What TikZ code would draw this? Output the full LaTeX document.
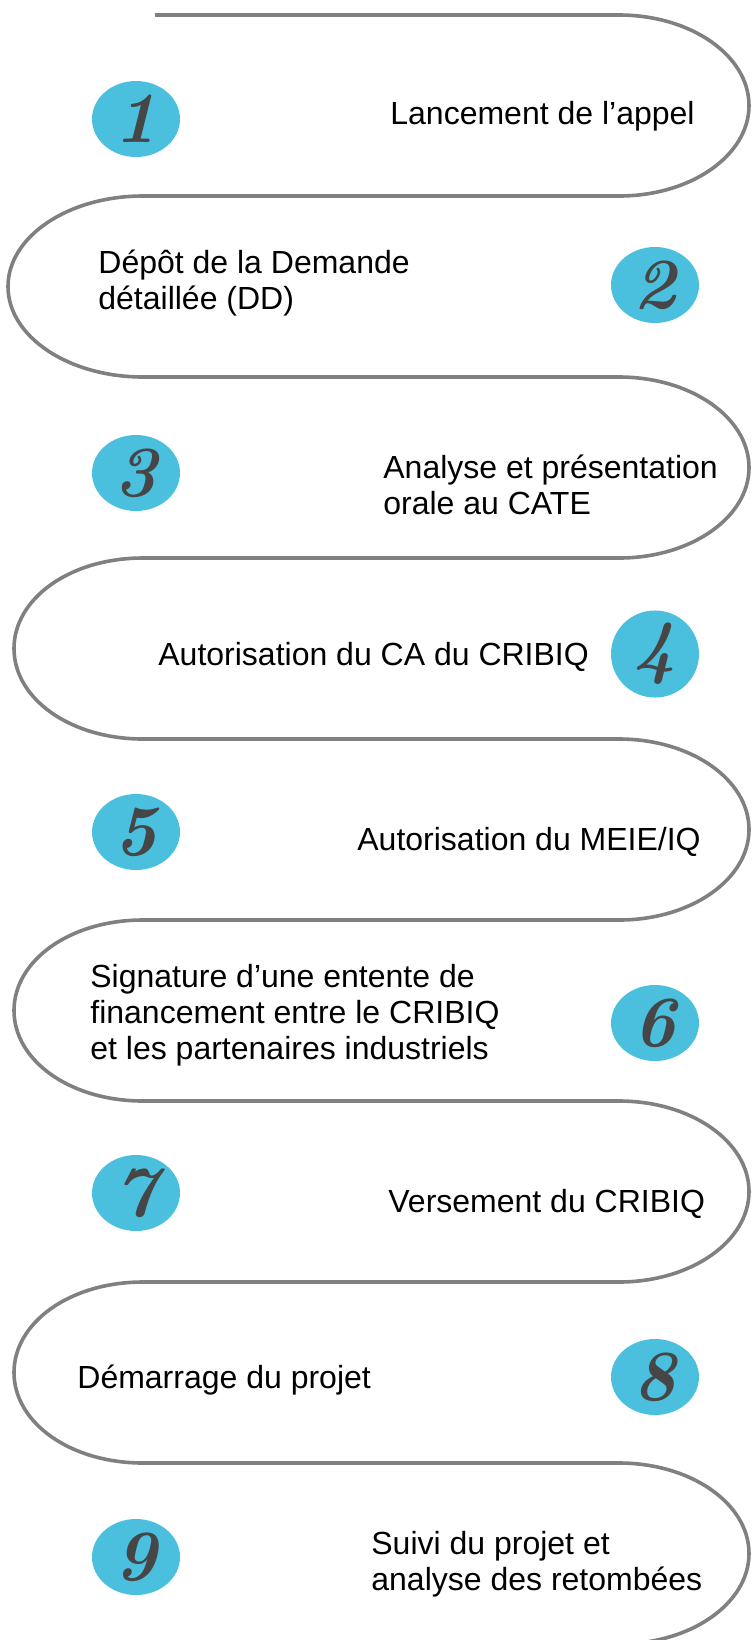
\documentclass[tikz,border=0pt]{standalone}
\usepackage{fontspec}
\newfontfamily\arial{Liberation Sans}
\usetikzlibrary{shapes.geometric}
\definecolor{serpgray}{RGB}{128,128,128}
\definecolor{cblue}{RGB}{75,192,222}
\definecolor{digit}{RGB}{70,70,70}
\tikzset{
  serp/.style={draw=serpgray, line width=1.8pt},
  numdot/.style={ellipse, fill=cblue, minimum width=44pt, minimum height=38pt, inner sep=0pt,
    text=digit, font=\rmfamily\bfseries\itshape\fontsize{36}{36}\selectfont},
  lbl/.style={anchor=west, inner sep=0pt, align=left, text=black,
    font=\arial\fontsize{16}{18}\selectfont}
}
\begin{document}
\begin{tikzpicture}[x=0.5pt,y=-0.5pt]
\useasboundingbox (0,0) rectangle (751,1640);
\clip (0,0) rectangle (751,1640);
\draw[serp] (155,15) -- (619,15)
 .. controls (690.8,15) and (749,55.5) .. (749,105.5) .. controls (749,155.5) and (690.8,196) .. (619,196)
 -- (143,196)
 .. controls (68.4,196) and (8,236.5) .. (8,286.5) .. controls (8,336.5) and (68.4,377) .. (143,377)
 -- (619,377)
 .. controls (690.8,377) and (749,417.5) .. (749,467.5) .. controls (749,517.5) and (690.8,558) .. (619,558)
 -- (143,558)
 .. controls (70,558) and (14,598.5) .. (14,648.5) .. controls (14,698.5) and (70,739) .. (143,739)
 -- (619,739)
 .. controls (690.8,739) and (749,779.5) .. (749,829.5) .. controls (749,879.5) and (690.8,920) .. (619,920)
 -- (143,920)
 .. controls (70,920) and (14,960.5) .. (14,1010.5) .. controls (14,1060.5) and (70,1101) .. (143,1101)
 -- (619,1101)
 .. controls (690.8,1101) and (749,1141.5) .. (749,1191.5) .. controls (749,1241.5) and (690.8,1282) .. (619,1282)
 -- (143,1282)
 .. controls (70,1282) and (14,1322.5) .. (14,1372.5) .. controls (14,1422.5) and (70,1463) .. (143,1463)
 -- (619,1463)
 .. controls (690.8,1463) and (749,1503.5) .. (749,1553.5) .. controls (749,1603.5) and (690.8,1644) .. (619,1644);

\node[numdot] (n1) at (136,119) {1};
\node[numdot] (n2) at (655,285) {2};
\node[numdot] (n3) at (136,473) {3};
\node[numdot] (n4) at (655,654) {4};
\node[numdot] (n5) at (136,832) {5};
\node[numdot] (n6) at (655,1023) {6};
\node[numdot] (n7) at (136,1193) {7};
\node[numdot] (n8) at (655,1377) {8};
\node[numdot] (n9) at (136,1557) {9};

\node[lbl] (t1) at (390,116.5) {Lancement de l’appel};
\node[lbl] (t2) at (98,283.5) {Dépôt de la Demande\\détaillée (DD)};
\node[lbl] (t3) at (383,484.5) {Analyse et présentation\\orale au CATE};
\node[lbl] (t4) at (158,656.5) {Autorisation du CA du CRIBIQ};
\node[lbl] (t5) at (357,841.5) {Autorisation du MEIE/IQ};
\node[lbl] (t6) at (90,1015.5) {Signature d’une entente de\\financement entre le CRIBIQ\\et les partenaires industriels};
\node[lbl] (t7) at (388,1203.5) {Versement du CRIBIQ};
\node[lbl] (t8) at (77,1380.5) {Démarrage du projet};
\node[lbl] (t9) at (371,1564.5) {Suivi du projet et\\analyse des retombées};
\end{tikzpicture}
\end{document}
